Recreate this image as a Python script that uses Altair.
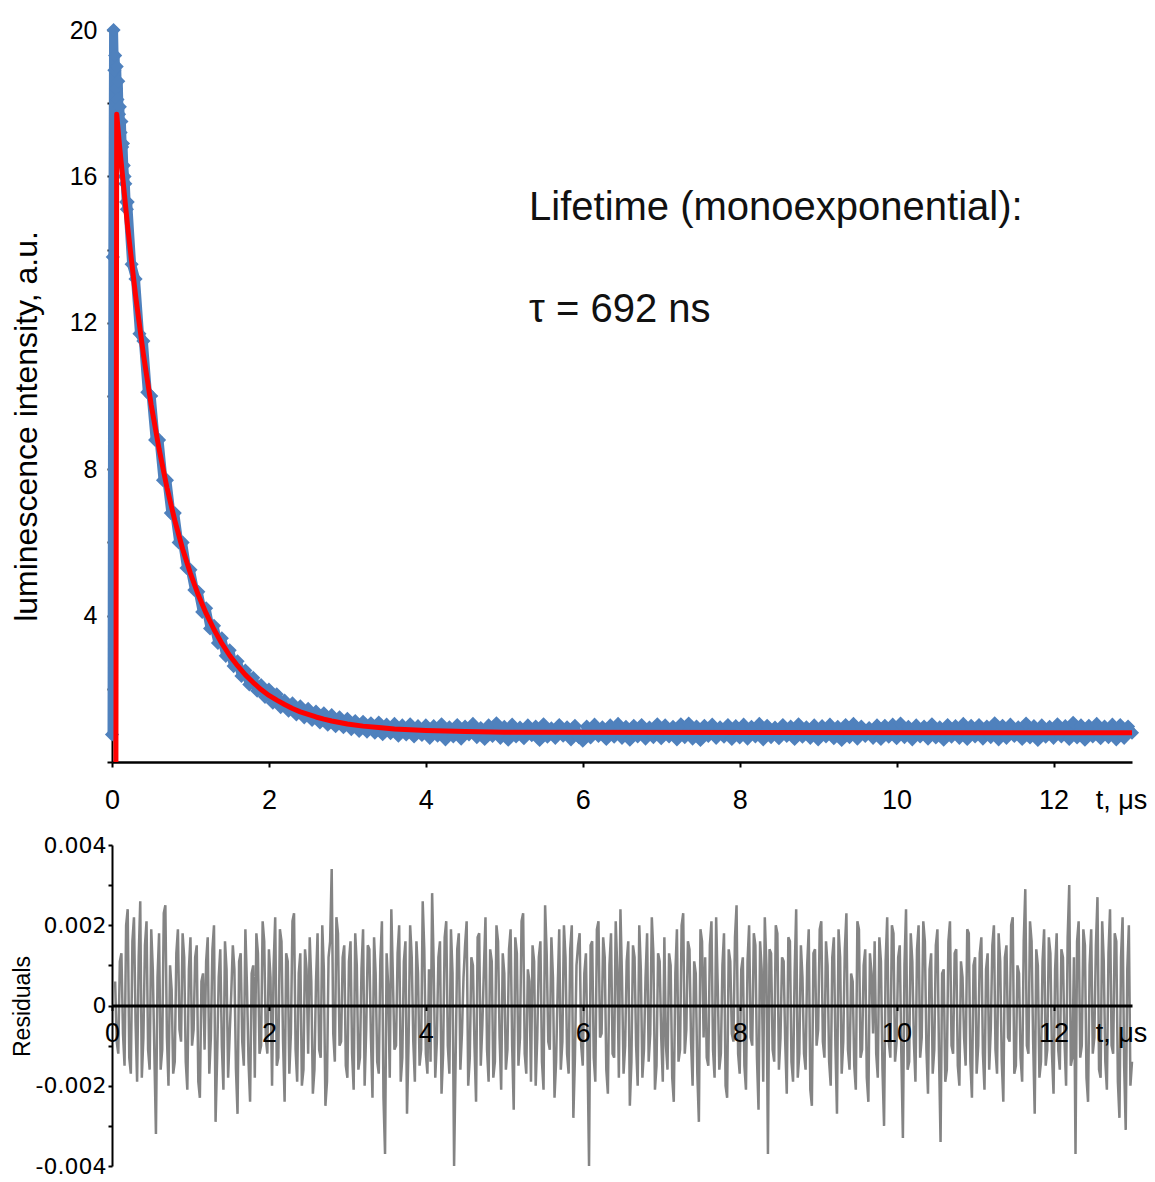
import altair as alt
import pandas as pd

BLUE = "#4F81BD"
RED = "#FF0000"
GRAY = "#848484"
FONT = "Liberation Sans"

# ---------------- measured decay (blue) ----------------
# early part, 10 ns spacing
blue_early_t = [0.00, 0.01, 0.02, 0.03, 0.04, 0.05, 0.06, 0.07, 0.08, 0.09,
                0.10, 0.11, 0.12, 0.13, 0.14, 0.15, 0.16, 0.17, 0.18, 0.19]
blue_early_v = [0.75, 13.8, 20.0, 18.9, 19.3, 18.4, 19.0, 18.1, 18.6, 17.7,
                17.9, 17.2, 17.5, 16.8, 16.9, 16.3, 16.0, 15.8, 15.3, 15.1]

# main part, from 0.20 us on, 50 ns spacing
blue_main_start = 0.20
blue_main_step = 0.05
blue_main_v = [
    # 0.20 - 0.95
    15.3, 13.6, 13.2, 11.7, 11.5, 10.1, 10.0, 8.8, 8.8, 7.7, 7.7, 6.8, 6.8, 6.0, 6.0, 5.3,
    # 1.00 - 1.95
    5.25, 4.70, 4.65, 4.10, 4.20, 3.65, 3.72, 3.25, 3.38, 2.90, 3.05, 2.62, 2.75, 2.35, 2.50, 2.12, 2.30, 1.95, 2.10, 1.78,
    # 2.00 - 2.95
    1.98, 1.62, 1.85, 1.50, 1.68, 1.40, 1.60, 1.30, 1.52, 1.22, 1.45, 1.15, 1.38, 1.08, 1.33, 1.02, 1.28, 0.98, 1.22, 0.95,
    # 3.00 - 3.95
    1.18, 0.90, 1.12, 0.85, 1.10, 0.83, 1.06, 0.80, 1.08, 0.76, 1.02, 0.79, 1.04, 0.72, 1.00, 0.75, 1.03, 0.70, 0.98, 0.74,
    # 4.00 - 4.95
    1.00, 0.66, 0.98, 0.72, 1.03, 0.62, 0.95, 0.70, 1.01, 0.64, 0.97, 0.75, 1.04, 0.68, 0.93, 0.63, 1.00, 0.71, 1.06, 0.66,
    # 5.00 - 5.95
    0.96, 0.61, 1.02, 0.70, 0.94, 0.65, 1.00, 0.73, 0.97, 0.60, 1.03, 0.69, 0.92, 0.66, 1.01, 0.72, 0.95, 0.62, 0.99, 0.68,
    # 6.00 - 6.95
    0.58, 0.97, 0.67, 1.02, 0.71, 0.95, 0.63, 1.00, 0.69, 1.04, 0.66, 0.96, 0.61, 0.99, 0.70, 1.01, 0.64, 0.94, 0.68, 1.03,
    # 7.00 - 7.95
    0.65, 1.00, 0.70, 0.96, 0.62, 1.03, 0.68, 1.05, 0.64, 0.97, 0.60, 0.99, 0.71, 1.02, 0.66, 0.95, 0.69, 1.01, 0.63, 0.98,
    # 8.00 - 8.95
    0.67, 1.02, 0.64, 0.96, 0.70, 1.04, 0.62, 0.99, 0.68, 0.94, 0.65, 1.01, 0.71, 0.97, 0.63, 1.03, 0.69, 0.95, 0.66, 1.00,
    # 9.00 - 9.95
    0.62, 0.98, 0.70, 1.02, 0.65, 0.96, 0.60, 1.01, 0.68, 1.04, 0.64, 0.97, 0.71, 0.93, 0.66, 1.00, 0.63, 0.99, 0.69, 1.02,
    # 10.00 - 10.95
    0.65, 1.05, 0.68, 0.96, 0.62, 1.00, 0.70, 0.97, 0.64, 1.03, 0.67, 0.95, 0.61, 1.01, 0.69, 0.98, 0.66, 1.04, 0.63, 0.99,
    # 11.00 - 11.95
    0.70, 1.01, 0.64, 0.97, 0.68, 1.06, 0.62, 0.99, 0.66, 1.02, 0.71, 0.95, 0.63, 1.05, 0.67, 0.98, 0.60, 1.00, 0.69, 0.96,
    # 12.00 - 12.95
    0.66, 1.03, 0.70, 0.98, 0.63, 1.07, 0.67, 1.00, 0.61, 0.99, 0.70, 1.04, 0.65, 0.97, 0.68, 1.02, 0.62, 1.01, 0.66, 0.97,
    # 13.00
    0.80,
]

# ---------------- monoexponential fit (red) ----------------
fit_t = [0.05, 0.06, 0.1, 0.2, 0.3, 0.4, 0.5, 0.6, 0.7, 0.8, 0.9, 1.0,
         1.1, 1.2, 1.3, 1.4, 1.5, 1.6, 1.7, 1.8, 1.9, 2.0,
         2.1, 2.2, 2.3, 2.4, 2.5, 2.6, 2.7, 2.8, 2.9, 3.0,
         3.2, 3.4, 3.6, 3.8, 4.0, 4.5, 5.0, 13.0]
fit_v = [0.0, 17.7, 16.75, 14.61, 12.75, 11.14, 9.75, 8.55, 7.50, 6.60, 5.82, 5.15,
         4.56, 4.06, 3.62, 3.24, 2.91, 2.63, 2.38, 2.17, 1.98, 1.82,
         1.69, 1.57, 1.46, 1.37, 1.30, 1.23, 1.17, 1.12, 1.08, 1.04,
         0.98, 0.94, 0.90, 0.88, 0.86, 0.83, 0.81, 0.80]

# ---------------- residuals (gray) ----------------
# samples at t = 0.04, 0.08, ... (set A) and t = 0.06, 0.10, ... (set B)
resid_a_start = 0.04
resid_b_start = 0.06
resid_step = 0.04
residuals_a = [
    0.0006, -0.0012, 0.0013, -0.0015, 0.0024, -0.0017, 0.0022, -0.0019, 0.0026, -0.0008, 0.0021, -0.0016, 0.0009, -0.0032, 0.0018, -0.0011, 0.0025, -0.0020, 0.0004, -0.0014, 0.0019, -0.0009, 0.0012, -0.0021, 0.0017,
    -0.0006, 0.0015, -0.0023, 0.0008, 0.0011, -0.0017, 0.0014, -0.0029, 0.0007, -0.0010, 0.0016, -0.0018, 0.0003, 0.0009, -0.0027, 0.0013, -0.0015, 0.0005, -0.0024, 0.0010, 0.0018, -0.0012, 0.0021, -0.0008, 0.0014,
    -0.0020, 0.0022, -0.0013, 0.0016, -0.0024, 0.0011, -0.0007, 0.0023, -0.0019, 0.0013, -0.0016, 0.0009, 0.0017, -0.0022, 0.0006, -0.0011, 0.0020, -0.0025, 0.0012, 0.0034, -0.0014, 0.0018, -0.0009, 0.0015, -0.0018,
    0.0016, -0.0021, 0.0010, -0.0013, 0.0019, -0.0006, 0.0014, -0.0023, 0.0008, -0.0017, 0.0021, -0.0037, 0.0005, 0.0024, -0.0011, 0.0013, -0.0019, 0.0011, -0.0027, 0.0020, -0.0009, 0.0016, -0.0015, 0.0026, -0.0012,
    0.0009, 0.0028, -0.0018, 0.0012, -0.0022, 0.0017, -0.0010, 0.0019, -0.0040, 0.0014, -0.0016, 0.0007, 0.0021, -0.0013, 0.0010, -0.0024, 0.0018, -0.0005, 0.0022, -0.0019, 0.0011, -0.0014, 0.0016, -0.0021, 0.0008,
    -0.0011, 0.0019, -0.0026, 0.0013, -0.0008, 0.0023, -0.0017, 0.0006, 0.0015, -0.0020, 0.0012, -0.0014, 0.0025, -0.0009, 0.0017, -0.0023, 0.0004, -0.0016, 0.0020, -0.0012, 0.0014, -0.0028, 0.0010, 0.0018, -0.0015,
    0.0013, -0.0040, 0.0016, -0.0019, 0.0021, -0.0007, 0.0012, -0.0022, 0.0018, -0.0013, 0.0009, 0.0024, -0.0017, 0.0011, -0.0025, 0.0015, -0.0010, 0.0020, -0.0018, 0.0007, -0.0014, 0.0022, -0.0021, 0.0013, -0.0008,
    0.0017, -0.0016, 0.0010, -0.0024, 0.0019, -0.0011, 0.0023, -0.0006, 0.0014, -0.0020, 0.0008, -0.0029, 0.0016, 0.0012, -0.0015, 0.0021, -0.0018, 0.0005, -0.0012, 0.0018, -0.0023, 0.0011, -0.0009, 0.0025, -0.0017,
    0.0012, -0.0021, 0.0020, -0.0010, 0.0015, -0.0026, 0.0009, 0.0022, -0.0037, 0.0013, -0.0014, 0.0018, -0.0008, 0.0011, -0.0022, 0.0016, -0.0019, 0.0024, -0.0012, 0.0007, -0.0016, 0.0019, -0.0025, 0.0014, -0.0006,
    0.0021, -0.0013, 0.0010, -0.0020, 0.0017, -0.0027, 0.0012, -0.0009, 0.0023, -0.0016, 0.0006, -0.0021, 0.0019, -0.0011, 0.0014, -0.0024, 0.0008, 0.0016, -0.0018, 0.0011, -0.0030, 0.0022, -0.0013, 0.0018, -0.0009,
    0.0015, -0.0033, 0.0024, -0.0014, 0.0011, -0.0019, 0.0020, -0.0008, 0.0016, -0.0022, 0.0013, -0.0011, 0.0019, -0.0034, 0.0009, -0.0016, 0.0021, -0.0012, 0.0014, -0.0020, 0.0007, -0.0015, 0.0018, -0.0023, 0.0012,
    -0.0010, 0.0017, -0.0021, 0.0013, -0.0006, 0.0020, -0.0017, 0.0011, -0.0024, 0.0015, -0.0009, 0.0022, -0.0015, 0.0008, -0.0019, 0.0029, -0.0012, 0.0016, -0.0027, 0.0010, -0.0014, 0.0019, -0.0011, 0.0013, -0.0022,
    0.0018, -0.0016, 0.0012, -0.0020, 0.0030, -0.0013, -0.0037, 0.0021, -0.0010, 0.0015, -0.0024, 0.0019, -0.0008, 0.0027, -0.0018, 0.0011, -0.0021, 0.0024, -0.0012, 0.0016, -0.0028, 0.0022, -0.0031, 0.0020, -0.0014,
]
residuals_b = [
    -0.0009, 0.0011, -0.0007, 0.0020, -0.0013, 0.0016, -0.0004, 0.0012, -0.0018, 0.0015, -0.0011, 0.0019, -0.0012, 0.0007, -0.0016, 0.0023, -0.0008, 0.0010, -0.0017, 0.0013, -0.0006, 0.0018, -0.0014, 0.0009, -0.0010,
    0.0012, -0.0019, 0.0006, -0.0011, 0.0017, -0.0008, 0.0020, -0.0013, 0.0014, -0.0021, 0.0009, -0.0007, 0.0015, -0.0016, 0.0011, -0.0009, 0.0019, -0.0014, 0.0008, -0.0018, 0.0013, -0.0010, 0.0016, -0.0012, 0.0007,
    0.0010, -0.0015, 0.0019, -0.0009, 0.0013, -0.0017, 0.0021, -0.0011, 0.0008, -0.0020, 0.0014, -0.0012, 0.0006, -0.0016, 0.0018, -0.0013, 0.0009, -0.0019, 0.0016, -0.0007, 0.0022, -0.0010, 0.0012, -0.0015, 0.0011,
    -0.0012, 0.0018, -0.0016, 0.0009, -0.0020, 0.0015, -0.0008, 0.0017, -0.0014, 0.0011, -0.0023, 0.0013, -0.0018, 0.0007, -0.0010, 0.0020, -0.0013, 0.0016, -0.0009, 0.0012, -0.0019, 0.0008, -0.0011, 0.0014, -0.0017,
    -0.0014, 0.0010, -0.0009, 0.0016, -0.0012, 0.0021, -0.0017, 0.0008, -0.0013, 0.0018, -0.0007, 0.0015, -0.0020, 0.0012, -0.0010, 0.0017, -0.0015, 0.0009, -0.0011, 0.0014, -0.0018, 0.0020, -0.0008, 0.0013, -0.0016,
    0.0014, -0.0010, 0.0017, -0.0015, 0.0021, -0.0012, 0.0009, -0.0019, 0.0011, -0.0008, 0.0016, -0.0021, 0.0013, -0.0011, 0.0007, -0.0014, 0.0019, -0.0009, 0.0012, -0.0017, 0.0020, -0.0013, 0.0015, -0.0010, 0.0008,
    -0.0011, 0.0015, -0.0013, 0.0019, -0.0008, 0.0017, -0.0016, 0.0010, -0.0012, 0.0021, -0.0018, 0.0007, -0.0010, 0.0016, -0.0014, 0.0012, -0.0020, 0.0009, -0.0011, 0.0018, -0.0007, 0.0013, -0.0015, 0.0011, -0.0019,
    -0.0010, 0.0013, -0.0018, 0.0008, -0.0014, 0.0020, -0.0012, 0.0016, -0.0009, 0.0011, -0.0017, 0.0019, -0.0008, -0.0013, 0.0015, -0.0011, 0.0022, -0.0016, 0.0010, -0.0020, 0.0014, -0.0007, 0.0017, -0.0012, 0.0009,
    -0.0015, 0.0011, -0.0008, 0.0018, -0.0013, 0.0016, -0.0019, 0.0010, 0.0014, -0.0011, 0.0020, -0.0016, 0.0012, -0.0009, 0.0017, -0.0014, 0.0008, -0.0018, 0.0015, -0.0012, 0.0010, -0.0021, 0.0013, -0.0010, 0.0019,
    -0.0009, 0.0016, -0.0014, 0.0012, -0.0010, 0.0019, -0.0017, 0.0014, -0.0011, 0.0008, -0.0015, 0.0021, -0.0013, 0.0010, -0.0018, 0.0013, -0.0007, -0.0012, 0.0017, -0.0016, 0.0011, -0.0009, 0.0020, -0.0014, 0.0012,
    -0.0012, 0.0010, -0.0016, 0.0018, -0.0009, 0.0014, -0.0013, 0.0021, -0.0011, 0.0009, -0.0017, 0.0015, -0.0012, 0.0008, -0.0019, 0.0016, -0.0010, 0.0013, -0.0015, 0.0011, -0.0008, 0.0019, -0.0014, 0.0010, -0.0017,
    0.0013, -0.0012, 0.0009, -0.0016, 0.0015, -0.0011, 0.0018, -0.0014, 0.0012, -0.0008, 0.0020, -0.0017, 0.0010, -0.0013, 0.0016, -0.0010, 0.0021, -0.0009, 0.0014, -0.0018, 0.0011, -0.0015, 0.0017, -0.0012, 0.0009,
    -0.0011, 0.0014, -0.0009, 0.0017, -0.0015, 0.0012, 0.0016, -0.0013, 0.0019, -0.0018, 0.0010, -0.0012, 0.0015, -0.0016, 0.0021, -0.0014, 0.0013, -0.0010, 0.0018, -0.0019, 0.0012, -0.0015, 0.0009, -0.0020,
]

x_ticks = [0, 2, 4, 6, 8, 10, 12]
y_ticks_top = [0, 2, 4, 6, 8, 10, 12, 14, 16, 18, 20]
y_ticks_bottom = [-0.004, -0.003, -0.002, -0.001, 0, 0.001, 0.002, 0.003, 0.004]

annot_text = ["Lifetime (monoexponential):", "τ = 692 ns"]
annot_t = [5.315, 5.315]
annot_v = [14.81, 12.02]

# ---------------- tables ----------------
blue_main_t = [round(blue_main_start + blue_main_step * i, 2) for i in range(len(blue_main_v))]
blue_df = pd.DataFrame({"t": blue_early_t + blue_main_t, "v": blue_early_v + blue_main_v})
fit_df = pd.DataFrame({"t": fit_t, "v": fit_v})
ta = [round(resid_a_start + resid_step * i, 3) for i in range(len(residuals_a))]
tb = [round(resid_b_start + resid_step * i, 3) for i in range(len(residuals_b))]
resid_df = pd.DataFrame({"t": ta + tb, "r": residuals_a + residuals_b})
resid_df = resid_df[resid_df["t"] <= 13.0].sort_values("t").reset_index(drop=True)
annot_df = pd.DataFrame({"t": annot_t, "v": annot_v, "label": annot_text})

W = 1020
H_TOP = 732
H_BOT = 321

x_top = alt.X(
    "t:Q",
    scale=alt.Scale(domain=[0, 13], nice=False, zero=False),
    axis=alt.Axis(
        values=x_ticks, grid=False, labelFlush=False, labelOverlap=False, labelAngle=0,
        labelFont=FONT, labelFontSize=27, labelColor="black", labelPadding=20,
        tickSize=5, tickWidth=2, tickColor="black",
        domainColor="black", domainWidth=2.5,
        title="t, μs", titleFont=FONT, titleFontSize=27, titleFontWeight="normal",
        titleColor="black", titleX=1009, titleY=38, titleAlign="center", titleBaseline="middle",
    ),
)
y_top = alt.Y(
    "v:Q",
    scale=alt.Scale(domain=[0, 20], nice=False),
    axis=alt.Axis(
        values=y_ticks_top, grid=False, labelOverlap=False,
        labelExpr="datum.value > 0 && datum.value % 4 == 0 ? datum.label : ''",
        labelFont=FONT, labelFontSize=25, labelColor="black", labelPadding=10,
        tickSize=5, tickWidth=2, tickColor="black",
        domainColor="black", domainWidth=2,
        title="luminescence intensity, a.u.", titleFont=FONT, titleFontSize=32,
        titleFontWeight="normal", titleColor="black", titleAngle=270,
        titleX=-101, titleY=396, titleAlign="center", titleBaseline="top",
    ),
)

blue_line = alt.Chart(blue_df).mark_line(color=BLUE, strokeWidth=9, strokeJoin="round").encode(
    x=x_top, y=y_top, order="t:Q")
blue_pts = alt.Chart(blue_df).mark_point(shape="diamond", filled=True, size=200, color=BLUE, opacity=1).encode(
    x=x_top, y=y_top)
red_line = alt.Chart(fit_df).mark_line(color=RED, strokeWidth=5, strokeJoin="round").encode(
    x=x_top, y=y_top, order="t:Q")
annot = alt.Chart(annot_df).mark_text(
    align="left", baseline="alphabetic", font=FONT, fontSize=40, color="#111111"
).encode(x=x_top, y=y_top, text="label:N")

top = alt.layer(blue_line, blue_pts, red_line, annot).properties(width=W, height=H_TOP)

x_bot = alt.X(
    "t:Q",
    scale=alt.Scale(domain=[0, 13], nice=False, zero=False),
    axis=alt.Axis(
        values=x_ticks, grid=False, labelFlush=False, labelOverlap=False, labelAngle=0,
        offset=-160.5, zindex=1,
        labelFont=FONT, labelFontSize=27, labelColor="black", labelPadding=10,
        tickSize=5, tickWidth=2, tickColor="black",
        domainColor="black", domainWidth=3,
        title="t, μs", titleFont=FONT, titleFontSize=27, titleFontWeight="normal",
        titleColor="black", titleX=1009, titleY=28, titleAlign="center", titleBaseline="middle",
    ),
)
y_bot = alt.Y(
    "r:Q",
    scale=alt.Scale(domain=[-0.004, 0.004], nice=False),
    axis=alt.Axis(
        values=y_ticks_bottom, grid=False, labelOverlap=False,
        labelExpr="abs(datum.value) < 0.0001 ? '0' : (abs(round(datum.value * 1000)) % 2 == 0 ? (datum.value < 0 ? '-' : '') + format(abs(datum.value), '.3f') : '')",
        labelFont="DejaVu Sans", labelFontSize=22, labelColor="black", labelPadding=2,
        tickSize=4, tickWidth=2, tickColor="black",
        domainColor="black", domainWidth=2,
        title="Residuals", titleFont=FONT, titleFontSize=23, titleFontWeight="normal",
        titleColor="black", titleAngle=270,
        titleX=-101, titleY=161, titleAlign="center", titleBaseline="top",
    ),
)

bottom = alt.Chart(resid_df).mark_line(color=GRAY, strokeWidth=2.5).encode(
    x=x_bot, y=y_bot, order="t:Q"
).properties(width=W, height=H_BOT)

chart = alt.vconcat(top, bottom, spacing=21).properties(
    padding={"left": 10, "top": 18, "right": 5, "bottom": 5},
    background="white",
).configure_view(strokeWidth=0)

chart.save("out.html", embed_options={"renderer": "svg", "actions": False})
